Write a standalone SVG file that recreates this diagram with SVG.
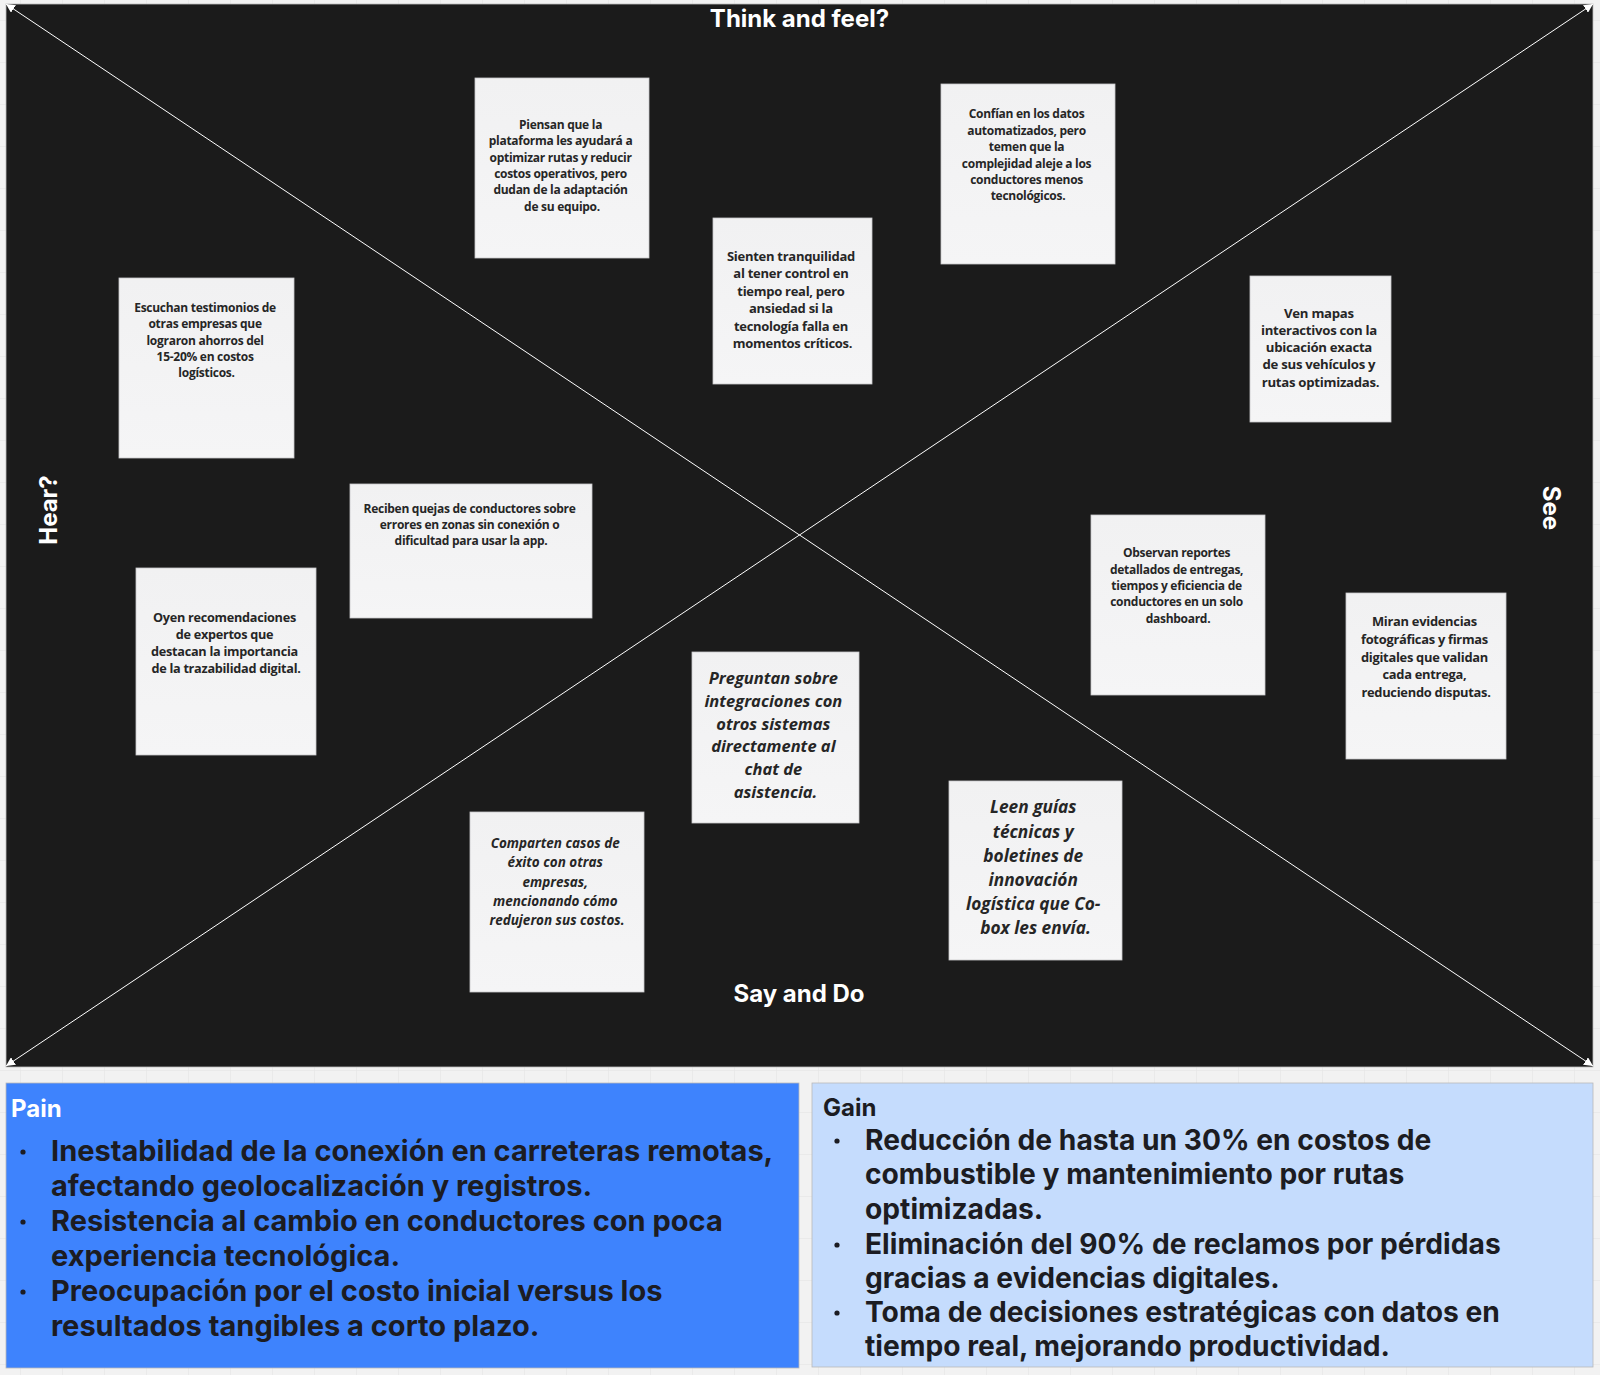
<svg xmlns="http://www.w3.org/2000/svg" width="1600" height="1375" viewBox="0 0 1600 1375">
  <style>
    .note { fill: url(#noteGrad); stroke: #c9c9cb; stroke-width: 0.8; }
    .nt { font-family: "Open Sans", "Noto Sans", "DejaVu Sans", sans-serif; font-weight: 700; font-stretch: 92%; letter-spacing: -0.28px; fill: #262626; text-anchor: middle; }
    .ni { font-style: italic; font-stretch: 100%; letter-spacing: 0; }
    .title { font-family: "Inter", "Lato", "Liberation Sans", sans-serif; font-weight: 700; fill: #ffffff; font-size: 24px; text-anchor: middle; }
    .box-t { font-family: "Inter", "Lato", "Liberation Sans", sans-serif; font-weight: 700; font-size: 24px; }
    .big { font-family: "Inter", "Lato", "Liberation Sans", sans-serif; font-weight: 700; fill: #1c1c22; }
    .dot { fill: #1c1c22; }
    .diag { stroke: #ffffff; stroke-width: 1; fill: none; marker-start: url(#arrS); marker-end: url(#arrE); }
  </style>
  <defs>
    <pattern id="grid" x="21" y="21" width="42" height="42" patternUnits="userSpaceOnUse">
      <path d="M42 0 V42 M0 42 H42" fill="none" stroke="#e3e3e3" stroke-width="1"/>
    </pattern>
    <linearGradient id="noteGrad" x1="0" y1="0" x2="0" y2="1">
      <stop offset="0" stop-color="#f1f1f2"/>
      <stop offset="1" stop-color="#f5f5f6"/>
    </linearGradient>
    <marker id="arrE" viewBox="0 0 10 10" refX="10" refY="5" markerWidth="9" markerHeight="9" markerUnits="userSpaceOnUse" orient="auto">
      <path d="M0 0 L10 5 L0 10 Z" fill="#ffffff"/>
    </marker>
    <marker id="arrS" viewBox="0 0 10 10" refX="0" refY="5" markerWidth="9" markerHeight="9" markerUnits="userSpaceOnUse" orient="auto">
      <path d="M10 0 L0 5 L10 10 Z" fill="#ffffff"/>
    </marker>
  </defs>

  <rect x="0" y="0" width="1600" height="1375" fill="#f2f2f2"/>
  <rect x="0" y="0" width="1600" height="1375" fill="url(#grid)"/>

  <g id="panel">
    <rect x="6" y="4" width="1587" height="1063" fill="#1b1b1b" stroke="#bdbdbd" stroke-width="0.8"/>
  </g>

  <g id="connectors">
    <line class="diag" x1="6" y1="4" x2="1593" y2="1066"/>
    <line class="diag" x1="6" y1="1066" x2="1593" y2="4"/>
  </g>

  <g id="labels">
    <text class="title" x="799.5" y="27">Think and feel?</text>
    <text class="title" x="799" y="1002">Say and Do</text>
    <text class="title" transform="translate(57,510) rotate(-90)" x="0" y="0">Hear?</text>
    <text class="title" transform="translate(1543,508) rotate(90)" x="0" y="0">See</text>
  </g>

  <g id="note-piensan">
    <rect class="note" x="475" y="78" width="174" height="180"/>
    <text class="nt" font-size="12">
      <tspan x="562" y="129">Piensan que la</tspan>
      <tspan x="562" y="145">plataforma les ayudará a</tspan>
      <tspan x="562" y="162">optimizar rutas y reducir</tspan>
      <tspan x="562" y="178">costos operativos, pero</tspan>
      <tspan x="562" y="194">dudan de la adaptación</tspan>
      <tspan x="562" y="211">de su equipo.</tspan>
    </text>
  </g>

  <g id="note-sienten">
    <rect class="note" x="713" y="218" width="159" height="166"/>
    <text class="nt" font-size="13">
      <tspan x="792.5" y="260.5">Sienten tranquilidad</tspan>
      <tspan x="792.5" y="277.5">al tener control en</tspan>
      <tspan x="792.5" y="295.5">tiempo real, pero</tspan>
      <tspan x="792.5" y="312.5">ansiedad si la</tspan>
      <tspan x="792.5" y="330.5">tecnología falla en</tspan>
      <tspan x="792.5" y="347.5">momentos críticos.</tspan>
    </text>
  </g>

  <g id="note-confian">
    <rect class="note" x="941" y="84" width="174" height="180"/>
    <text class="nt" font-size="12">
      <tspan x="1028" y="118">Confían en los datos</tspan>
      <tspan x="1028" y="135">automatizados, pero</tspan>
      <tspan x="1028" y="151">temen que la</tspan>
      <tspan x="1028" y="168">complejidad aleje a los</tspan>
      <tspan x="1028" y="184">conductores menos</tspan>
      <tspan x="1028" y="200">tecnológicos.</tspan>
    </text>
  </g>

  <g id="note-ven">
    <rect class="note" x="1250" y="276" width="141" height="146"/>
    <text class="nt" font-size="13.2">
      <tspan x="1320.5" y="317.5">Ven mapas</tspan>
      <tspan x="1320.5" y="334.5">interactivos con la</tspan>
      <tspan x="1320.5" y="351.5">ubicación exacta</tspan>
      <tspan x="1320.5" y="368.5">de sus vehículos y</tspan>
      <tspan x="1320.5" y="386.5">rutas optimizadas.</tspan>
    </text>
  </g>

  <g id="note-escuchan">
    <rect class="note" x="119" y="278" width="175" height="180"/>
    <text class="nt" font-size="12">
      <tspan x="206.5" y="312">Escuchan testimonios de</tspan>
      <tspan x="206.5" y="328">otras empresas que</tspan>
      <tspan x="206.5" y="345">lograron ahorros del</tspan>
      <tspan x="206.5" y="361">15-20% en costos</tspan>
      <tspan x="206.5" y="377">logísticos.</tspan>
    </text>
  </g>

  <g id="note-reciben">
    <rect class="note" x="350" y="484" width="242" height="134"/>
    <text class="nt" font-size="12">
      <tspan x="471" y="513">Reciben quejas de conductores sobre</tspan>
      <tspan x="471" y="529">errores en zonas sin conexión o</tspan>
      <tspan x="471" y="545">dificultad para usar la app.</tspan>
    </text>
  </g>

  <g id="note-oyen">
    <rect class="note" x="136" y="568" width="180" height="187"/>
    <text class="nt" font-size="12.7">
      <tspan x="226" y="621.5">Oyen recomendaciones</tspan>
      <tspan x="226" y="638.5">de expertos que</tspan>
      <tspan x="226" y="655.5">destacan la importancia</tspan>
      <tspan x="226" y="672.5">de la trazabilidad digital.</tspan>
    </text>
  </g>

  <g id="note-observan">
    <rect class="note" x="1091" y="515" width="174" height="180"/>
    <text class="nt" font-size="12">
      <tspan x="1178" y="557">Observan reportes</tspan>
      <tspan x="1178" y="574">detallados de entregas,</tspan>
      <tspan x="1178" y="590">tiempos y eficiencia de</tspan>
      <tspan x="1178" y="606">conductores en un solo</tspan>
      <tspan x="1178" y="623">dashboard.</tspan>
    </text>
  </g>

  <g id="note-miran">
    <rect class="note" x="1346" y="593" width="160" height="166"/>
    <text class="nt" font-size="12.9">
      <tspan x="1426" y="625.5">Miran evidencias</tspan>
      <tspan x="1426" y="643.5">fotográficas y firmas</tspan>
      <tspan x="1426" y="661.5">digitales que validan</tspan>
      <tspan x="1426" y="678.5">cada entrega,</tspan>
      <tspan x="1426" y="696.5">reduciendo disputas.</tspan>
    </text>
  </g>

  <g id="note-preguntan">
    <rect class="note" x="692" y="652" width="167" height="171"/>
    <text class="nt ni" font-size="16.5">
      <tspan x="775.5" y="684">Preguntan sobre</tspan>
      <tspan x="775.5" y="706.5">integraciones con</tspan>
      <tspan x="775.5" y="729.5">otros sistemas</tspan>
      <tspan x="775.5" y="752">directamente al</tspan>
      <tspan x="775.5" y="775">chat de</tspan>
      <tspan x="775.5" y="798">asistencia.</tspan>
    </text>
  </g>

  <g id="note-comparten">
    <rect class="note" x="470" y="812" width="174" height="180"/>
    <text class="nt ni" font-size="13.5">
      <tspan x="557" y="848">Comparten casos de</tspan>
      <tspan x="557" y="867">éxito con otras</tspan>
      <tspan x="557" y="887">empresas,</tspan>
      <tspan x="557" y="906">mencionando cómo</tspan>
      <tspan x="557" y="925">redujeron sus costos.</tspan>
    </text>
  </g>

  <g id="note-leen">
    <rect class="note" x="949" y="781" width="173" height="179"/>
    <text class="nt ni" font-size="17.3">
      <tspan x="1035.5" y="813">Leen guías</tspan>
      <tspan x="1035.5" y="838">técnicas y</tspan>
      <tspan x="1035.5" y="862">boletines de</tspan>
      <tspan x="1035.5" y="886">innovación</tspan>
      <tspan x="1035.5" y="910">logística que Co-</tspan>
      <tspan x="1035.5" y="934">box les envía.</tspan>
    </text>
  </g>

  <g id="pain">
    <rect x="6" y="1083" width="793" height="285" fill="#3e83fd" stroke="#b9b9b9" stroke-width="0.8"/>
    <text class="box-t" x="11" y="1117" fill="#ffffff">Pain</text>
    <circle class="dot" cx="23" cy="1152" r="2.6"/>
    <circle class="dot" cx="23" cy="1222" r="2.6"/>
    <circle class="dot" cx="23" cy="1292" r="2.6"/>
    <text class="big" font-size="29">
      <tspan x="51" y="1161">Inestabilidad de la conexión en carreteras remotas,</tspan>
      <tspan x="51" y="1196">afectando geolocalización y registros.</tspan>
      <tspan x="51" y="1231">Resistencia al cambio en conductores con poca</tspan>
      <tspan x="51" y="1266">experiencia tecnológica.</tspan>
      <tspan x="51" y="1301">Preocupación por el costo inicial versus los</tspan>
      <tspan x="51" y="1336">resultados tangibles a corto plazo.</tspan>
    </text>
  </g>

  <g id="gain">
    <rect x="812" y="1083" width="781" height="284" fill="#c5dcfd" stroke="#b9b9b9" stroke-width="0.8"/>
    <text class="box-t" x="823" y="1116" fill="#1c1c22">Gain</text>
    <circle class="dot" cx="837" cy="1141" r="2.6"/>
    <circle class="dot" cx="837" cy="1245" r="2.6"/>
    <circle class="dot" cx="837" cy="1313" r="2.6"/>
    <text class="big" font-size="28.2">
      <tspan x="865" y="1150">Reducción de hasta un 30% en costos de</tspan>
      <tspan x="865" y="1184">combustible y mantenimiento por rutas</tspan>
      <tspan x="865" y="1219">optimizadas.</tspan>
      <tspan x="865" y="1254">Eliminación del 90% de reclamos por pérdidas</tspan>
      <tspan x="865" y="1288">gracias a evidencias digitales.</tspan>
      <tspan x="865" y="1322">Toma de decisiones estratégicas con datos en</tspan>
      <tspan x="865" y="1356">tiempo real, mejorando productividad.</tspan>
    </text>
  </g>
</svg>
